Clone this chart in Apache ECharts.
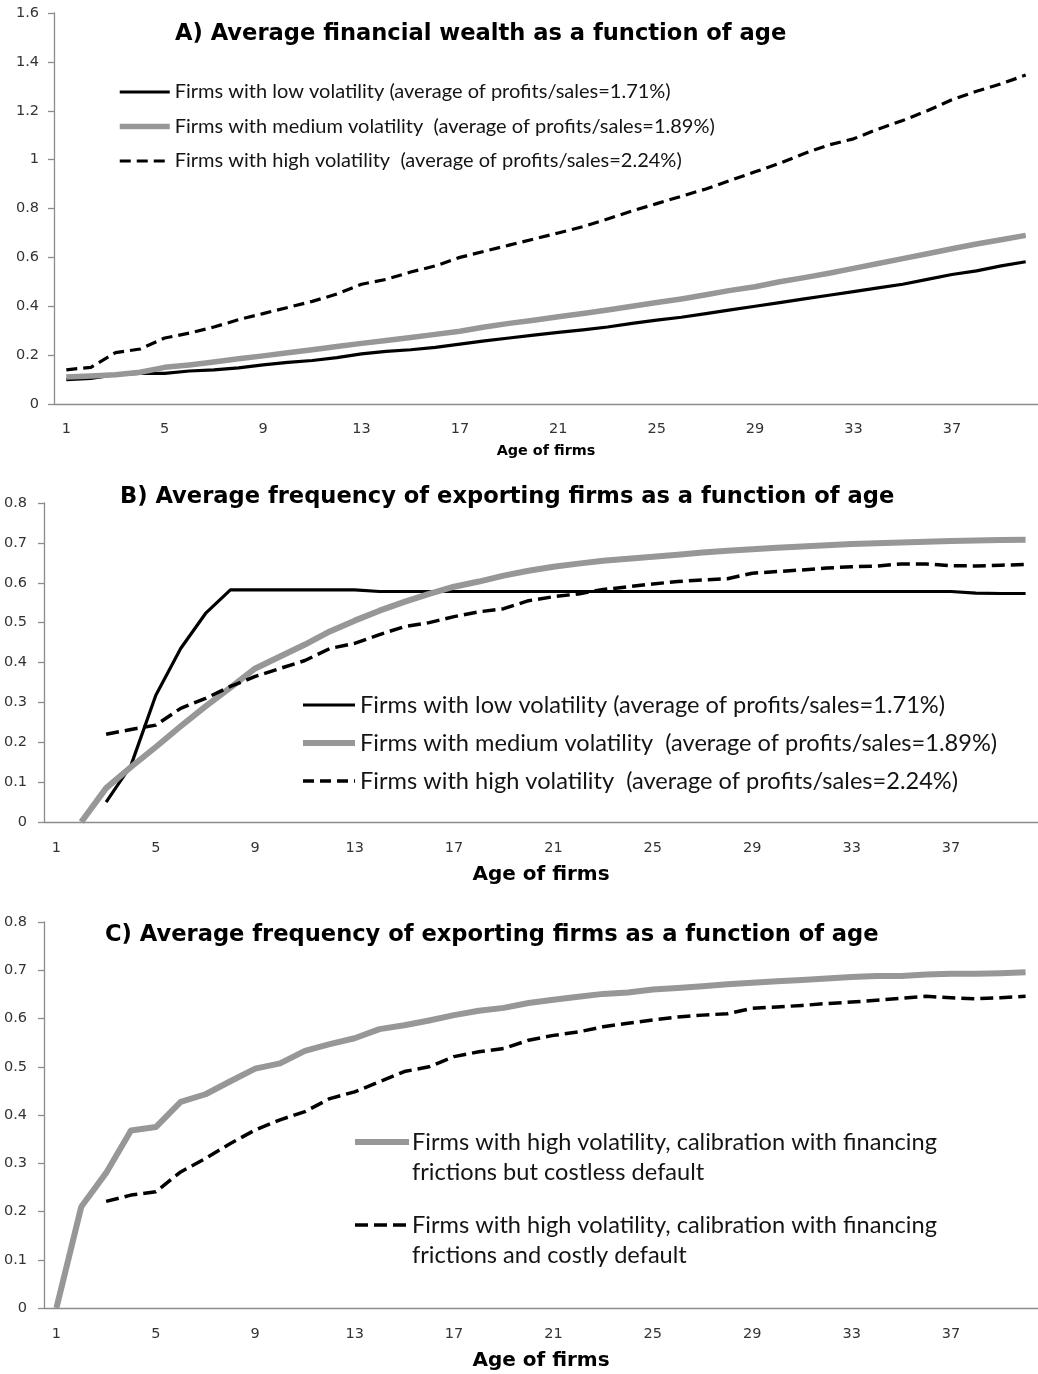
<!DOCTYPE html>
<html><head><meta charset="utf-8">
<script src="https://cdn.jsdelivr.net/npm/echarts@6/dist/echarts.min.js"></script>
<style>html,body{margin:0;padding:0;background:#fff}#c{width:1038px;height:1374px}</style>
</head><body><div id="c"></div>
<script>
const ages = ['1','2','3','4','5','6','7','8','9','10','11','12','13','14','15','16','17','18','19','20',
  '21','22','23','24','25','26','27','28','29','30','31','32','33','34','35','36','37','38','39','40'];

const titles = [
  'A) Average financial wealth as a function of age',
  'B) Average frequency of exporting firms as a function of age',
  'C) Average frequency of exporting firms as a function of age'
];
const xAxisName = 'Age of firms';
const volNames = [
  'Firms with low volatility (average of profits/sales=1.71%)',
  'Firms with medium volatility  (average of profits/sales=1.89%)',
  'Firms with high volatility  (average of profits/sales=2.24%)'
];
const calibNames = [
  'Firms with high volatility, calibration with financing\nfrictions but costless default',
  'Firms with high volatility, calibration with financing\nfrictions and costly default'
];
const wealthTicks = [0, 1.6, 0.2];
const exportTicks = [0, 0.8, 0.1];

const wealthLow = [0.100,0.105,0.120,0.125,0.125,0.135,0.140,0.148,0.160,0.170,0.178,0.190,0.205,0.215,0.222,0.232,0.245,0.258,0.270,0.282,
  0.293,0.303,0.315,0.330,0.343,0.355,0.370,0.385,0.400,0.415,0.430,0.445,0.460,0.475,0.490,0.510,0.530,0.545,0.565,0.582];
const wealthMedium = [0.110,0.115,0.120,0.130,0.150,0.160,0.172,0.185,0.197,0.210,0.222,0.235,0.248,0.260,0.272,0.285,0.298,0.315,0.330,0.343,
  0.357,0.370,0.385,0.400,0.415,0.430,0.447,0.465,0.480,0.500,0.517,0.535,0.555,0.575,0.595,0.615,0.635,0.655,0.672,0.690];
const wealthHigh = [0.140,0.150,0.210,0.225,0.270,0.290,0.315,0.345,0.370,0.395,0.420,0.450,0.490,0.510,0.540,0.565,0.600,0.625,0.650,0.675,
  0.700,0.726,0.757,0.790,0.820,0.850,0.880,0.915,0.950,0.985,1.025,1.060,1.085,1.125,1.160,1.200,1.245,1.280,1.310,1.346];

const exportLow = [null,null,0.050,0.142,0.318,0.435,0.523,0.582,0.582,0.582,0.582,0.582,0.582,0.578,0.578,0.578,0.578,0.578,0.578,0.578,
  0.578,0.578,0.578,0.578,0.578,0.578,0.578,0.578,0.578,0.578,0.578,0.578,0.578,0.578,0.578,0.578,0.578,0.574,0.573,0.573];
const exportMedium = [null,0,0.085,0.138,0.188,0.240,0.290,0.337,0.385,0.415,0.445,0.478,0.505,0.530,0.552,0.572,0.590,0.603,0.618,0.630,
  0.640,0.648,0.655,0.660,0.665,0.670,0.676,0.680,0.684,0.688,0.691,0.694,0.697,0.699,0.701,0.703,0.705,0.706,0.707,0.708];
const exportHigh = [null,null,0.220,0.232,0.243,0.285,0.310,0.340,0.365,0.385,0.405,0.435,0.448,0.470,0.490,0.500,0.515,0.527,0.535,0.555,
  0.565,0.572,0.583,0.590,0.597,0.603,0.607,0.610,0.624,0.628,0.632,0.637,0.640,0.642,0.647,0.647,0.643,0.642,0.644,0.646];

const exportCostless = [0,0.210,0.280,0.368,0.375,0.427,0.443,0.470,0.496,0.507,0.533,0.547,0.559,0.578,0.586,0.596,0.607,0.616,0.622,0.632,
  0.639,0.645,0.651,0.654,0.660,0.663,0.667,0.671,0.674,0.677,0.680,0.683,0.686,0.688,0.688,0.691,0.693,0.693,0.694,0.696];
const exportCostly = [null,null,0.221,0.234,0.241,0.282,0.310,0.341,0.369,0.390,0.407,0.434,0.448,0.469,0.490,0.500,0.521,0.531,0.538,0.555,
  0.565,0.572,0.583,0.590,0.597,0.603,0.607,0.610,0.621,0.624,0.627,0.631,0.634,0.638,0.642,0.646,0.643,0.641,0.643,0.646];

const FONT = 'Lato';
const BOLD = 'DejaVu Sans';
const NUM = 'DejaVu Sans';
const GRAY = '#979797';
const AXIS = '#8c8c8c';
const LBL = '#333';
const TXT = '#141414';

function xAxis(gi, tickInt, nameSize, nameGap, margin, tickLen) {
  return {
    type: 'category', gridIndex: gi, data: ages, boundaryGap: true,
    name: xAxisName, nameLocation: 'middle', nameGap: nameGap,
    nameTextStyle: { fontFamily: BOLD, fontWeight: 'bold', fontSize: nameSize, color: '#000' },
    axisLine: { lineStyle: { color: AXIS, width: 1.3 } },
    axisTick: { interval: tickInt, length: tickLen, lineStyle: { color: AXIS, width: 1.3 } },
    axisLabel: { interval: 3, margin: margin, fontFamily: NUM, fontSize: 14.5, color: LBL },
    splitLine: { show: false }
  };
}
function yAxis(gi, t, margin) {
  return {
    type: 'value', gridIndex: gi, min: t[0], max: t[1], interval: t[2],
    axisLine: { show: true, lineStyle: { color: AXIS, width: 1.3 } },
    axisTick: { show: true, length: 6, lineStyle: { color: AXIS, width: 1.3 } },
    axisLabel: { margin: margin, fontFamily: NUM, fontSize: 14.5, color: LBL },
    splitLine: { show: false }
  };
}
function line(name, data, gi, color, width, dash) {
  return {
    type: 'line', name: name, data: data, xAxisIndex: gi, yAxisIndex: gi,
    symbol: 'none', connectNulls: false,
    lineStyle: { color: color, width: width, type: dash || 'solid', join: 'round' },
    itemStyle: { color: color },
    emphasis: { disabled: true }
  };
}
const titleStyle = { fontFamily: BOLD, fontWeight: 'bold', fontSize: 22.6, lineHeight: 30, color: '#000' };

const chart = echarts.init(document.getElementById('c'), null, { renderer: 'canvas' });
chart.setOption({
  animation: false,
  backgroundColor: '#fff',
  title: [
    { text: titles[0], left: 175, top: 19.5, padding: 0, textStyle: titleStyle },
    { text: titles[1], left: 120, top: 482.5, padding: 0, textStyle: titleStyle },
    { text: titles[2], left: 105, top: 920.5, padding: 0, textStyle: titleStyle }
  ],
  legend: [
    {
      orient: 'vertical', left: 117, top: 82, padding: 0, itemWidth: 50, itemHeight: 20, itemGap: 14.5,
      textStyle: { fontFamily: FONT, fontSize: 20, lineHeight: 20, color: TXT },
      itemStyle: { opacity: 0 },
      selectedMode: false,
      data: [
        { name: volNames[0], lineStyle: { width: 3.2 } },
        { name: volNames[1], lineStyle: { width: 5.5 } },
        { name: volNames[2], lineStyle: { width: 3.2 } }
      ]
    },
    {
      orient: 'vertical', left: 300, top: 693, padding: 0, itemWidth: 52, itemHeight: 24, itemGap: 14,
      textStyle: { fontFamily: FONT, fontSize: 23.6, lineHeight: 24, color: TXT },
      itemStyle: { opacity: 0 },
      selectedMode: false,
      data: [
        { name: volNames[0], lineStyle: { width: 3.2 } },
        { name: volNames[1], lineStyle: { width: 6 } },
        { name: volNames[2], lineStyle: { width: 3.5 } }
      ]
    }
  ],
  graphic: [
    { type: 'line', shape: { x1: 355, y1: 1142, x2: 409, y2: 1142 }, style: { stroke: GRAY, lineWidth: 6 } },
    { type: 'text', x: 412, y: 1127, style: { text: calibNames[0], fontFamily: FONT, fontSize: 23.6, lineHeight: 30.5, fill: TXT } },
    { type: 'line', shape: { x1: 355, y1: 1225, x2: 406, y2: 1225 }, style: { stroke: '#000', lineWidth: 3.5, lineDash: [13, 6] } },
    { type: 'text', x: 412, y: 1210, style: { text: calibNames[1], fontFamily: FONT, fontSize: 23.6, lineHeight: 30.5, fill: TXT } }
  ],
  grid: [
    { left: 54, top: 13, width: 988, height: 391 },
    { left: 44, top: 503, width: 1000, height: 319 },
    { left: 44, top: 922, width: 996, height: 386 }
  ],
  xAxis: [ xAxis(0, 4, 14.4, 40, 18, 7), xAxis(1, 0, 20, 43, 19, 5), xAxis(2, 0, 20, 43, 19, 5) ],
  yAxis: [ yAxis(0, wealthTicks, 15), yAxis(1, exportTicks, 17), yAxis(2, exportTicks, 17) ],
  series: [
    line(volNames[0], wealthLow, 0, '#000', 3.2),
    line(volNames[1], wealthMedium, 0, GRAY, 5.5),
    line(volNames[2], wealthHigh, 0, '#000', 3.2, [11, 6]),
    line(volNames[0], exportLow, 1, '#000', 3.2),
    line(volNames[1], exportMedium, 1, GRAY, 6),
    line(volNames[2], exportHigh, 1, '#000', 3.5, [13, 6]),
    line(calibNames[0], exportCostless, 2, GRAY, 6),
    line(calibNames[1], exportCostly, 2, '#000', 3.5, [13, 6])
  ]
});
</script>
</body></html>
